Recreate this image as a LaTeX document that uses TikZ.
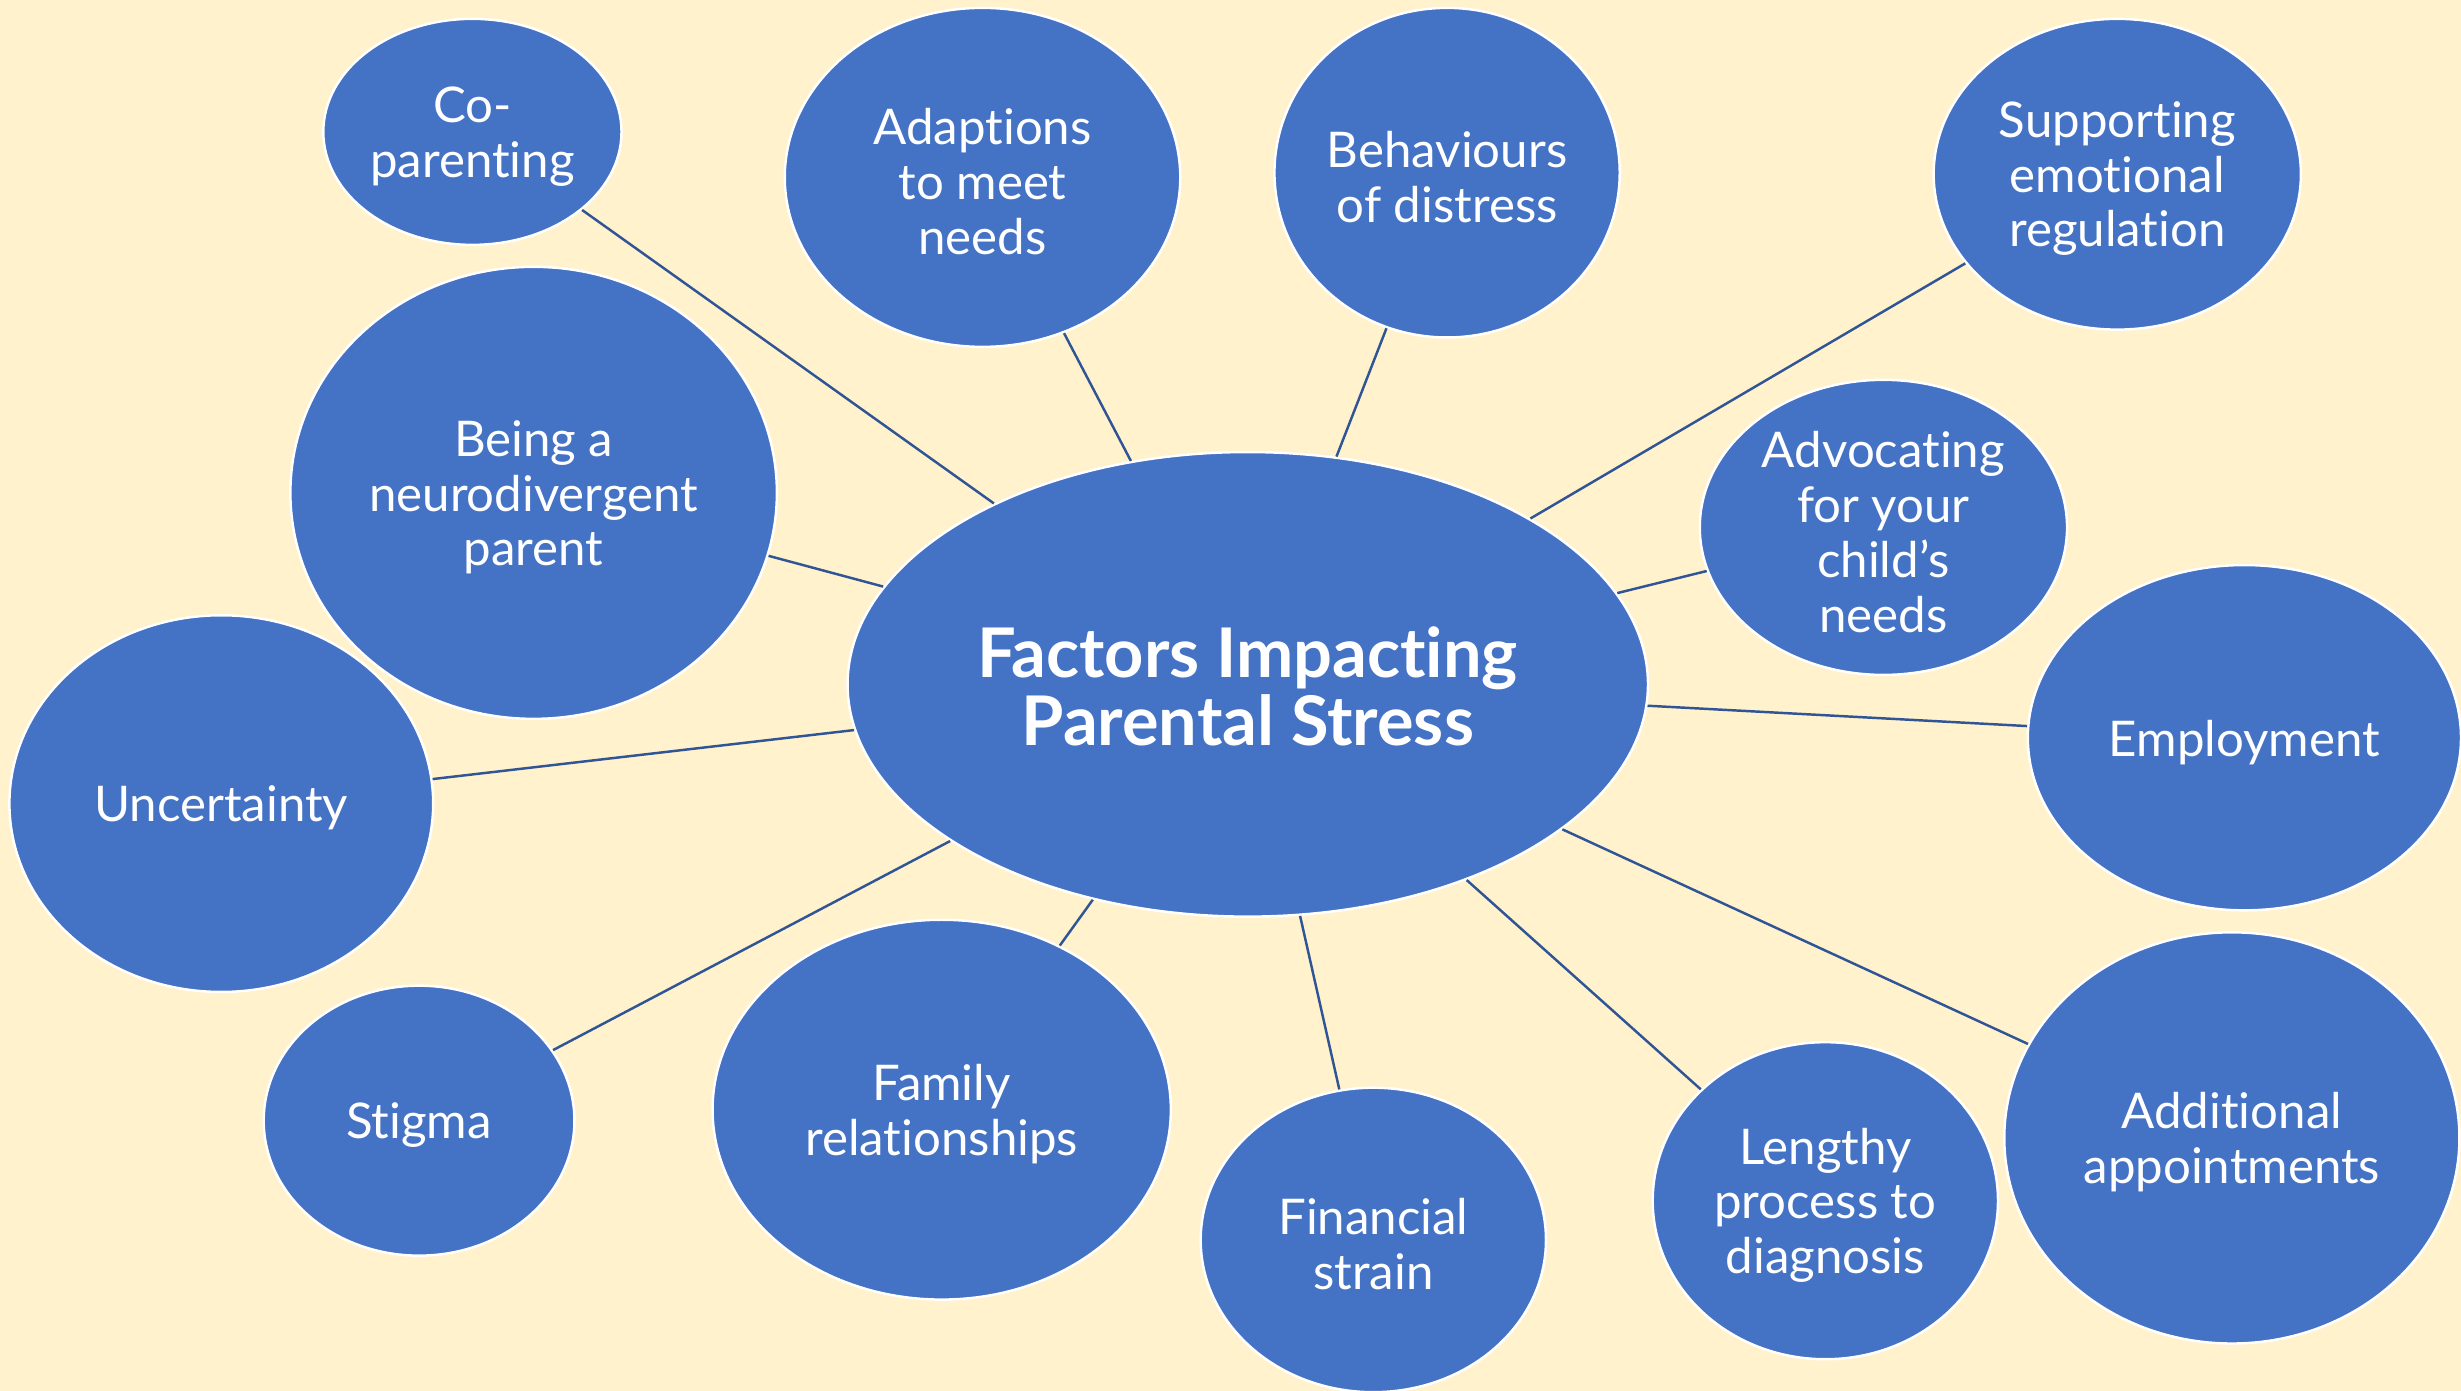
\documentclass[tikz,border=0pt]{standalone}
\usepackage{fontspec}
\setmainfont[Ligatures=NoCommon]{Lato}
\usetikzlibrary{shapes.geometric}
\definecolor{cream}{HTML}{FFF2CC}
\definecolor{bubble}{HTML}{4472C4}
\definecolor{spoke}{HTML}{2F5597}
\def\pxu{0.015695cm}
% \bubble{name}{x}{y}{half width}{half height}{label}
\newcommand\bubble[6]{%
  \node[bub, minimum width=#4*2*\pxu, minimum height=#5*2*\pxu] (#1) at (#2,#3) {};
  \node[bubtext] at (#1.center) {#6};}
\begin{document}
\begin{tikzpicture}[x=0.015695cm, y=-0.015695cm,
  bub/.style={ellipse, fill=bubble, draw=white, line width=0.7pt, inner sep=0pt},
  bubtext/.style={text=white, align=center, inner sep=0pt, yshift=-0.045cm,
    font=\fontsize{14}{15.6}\selectfont},
  hubtext/.style={text=white, align=center, inner sep=0pt, yshift=-0.02cm,
    font=\fontsize{19.5}{19.2}\selectfont\bfseries},
  spokeline/.style={draw=spoke, line width=0.7pt}]
\fill[cream] (0,0) rectangle (1568,886);
\useasboundingbox (0,0) rectangle (1568,886);

% central hub
\node[bub, minimum width=510*\pxu, minimum height=296*\pxu] (hub) at (795,436) {};
\node[hubtext] at (hub.center) {Factors Impacting\\Parental Stress};

% surrounding factors
\bubble{cop}{301}{84}{95}{72}{Co-\\parenting}
\bubble{adp}{626}{113}{126}{108}{Adaptions\\to meet\\needs}
\bubble{beh}{922}{110}{110}{105}{Behaviours\\of distress}
\bubble{sup}{1349}{111}{117}{99}{Supporting\\emotional\\regulation}
\bubble{neu}{340}{314}{155}{144}{Being a\\neurodivergent\\parent}
\bubble{adv}{1200}{336}{117}{94}{Advocating\\for your\\child’s\\needs}
\bubble{emp}{1430}{470}{138}{110}{Employment}
\bubble{unc}{141}{512}{135}{120}{Uncertainty}
\bubble{sti}{267}{714}{99}{86}{Stigma}
\bubble{fam}{600}{707}{146}{121}{Family\\relationships}
\bubble{fin}{875}{790}{110}{97}{Financial\\strain}
\bubble{len}{1163}{765}{110}{101}{Lengthy\\process to\\diagnosis}
\bubble{app}{1422}{725}{145}{131}{Additional\\appointments}

% spokes from hub to each factor
\foreach \b in {cop,adp,beh,sup,neu,adv,emp,unc,sti,fam,fin,len,app}
  \draw[spokeline] (hub) -- (\b);
\end{tikzpicture}
\end{document}
